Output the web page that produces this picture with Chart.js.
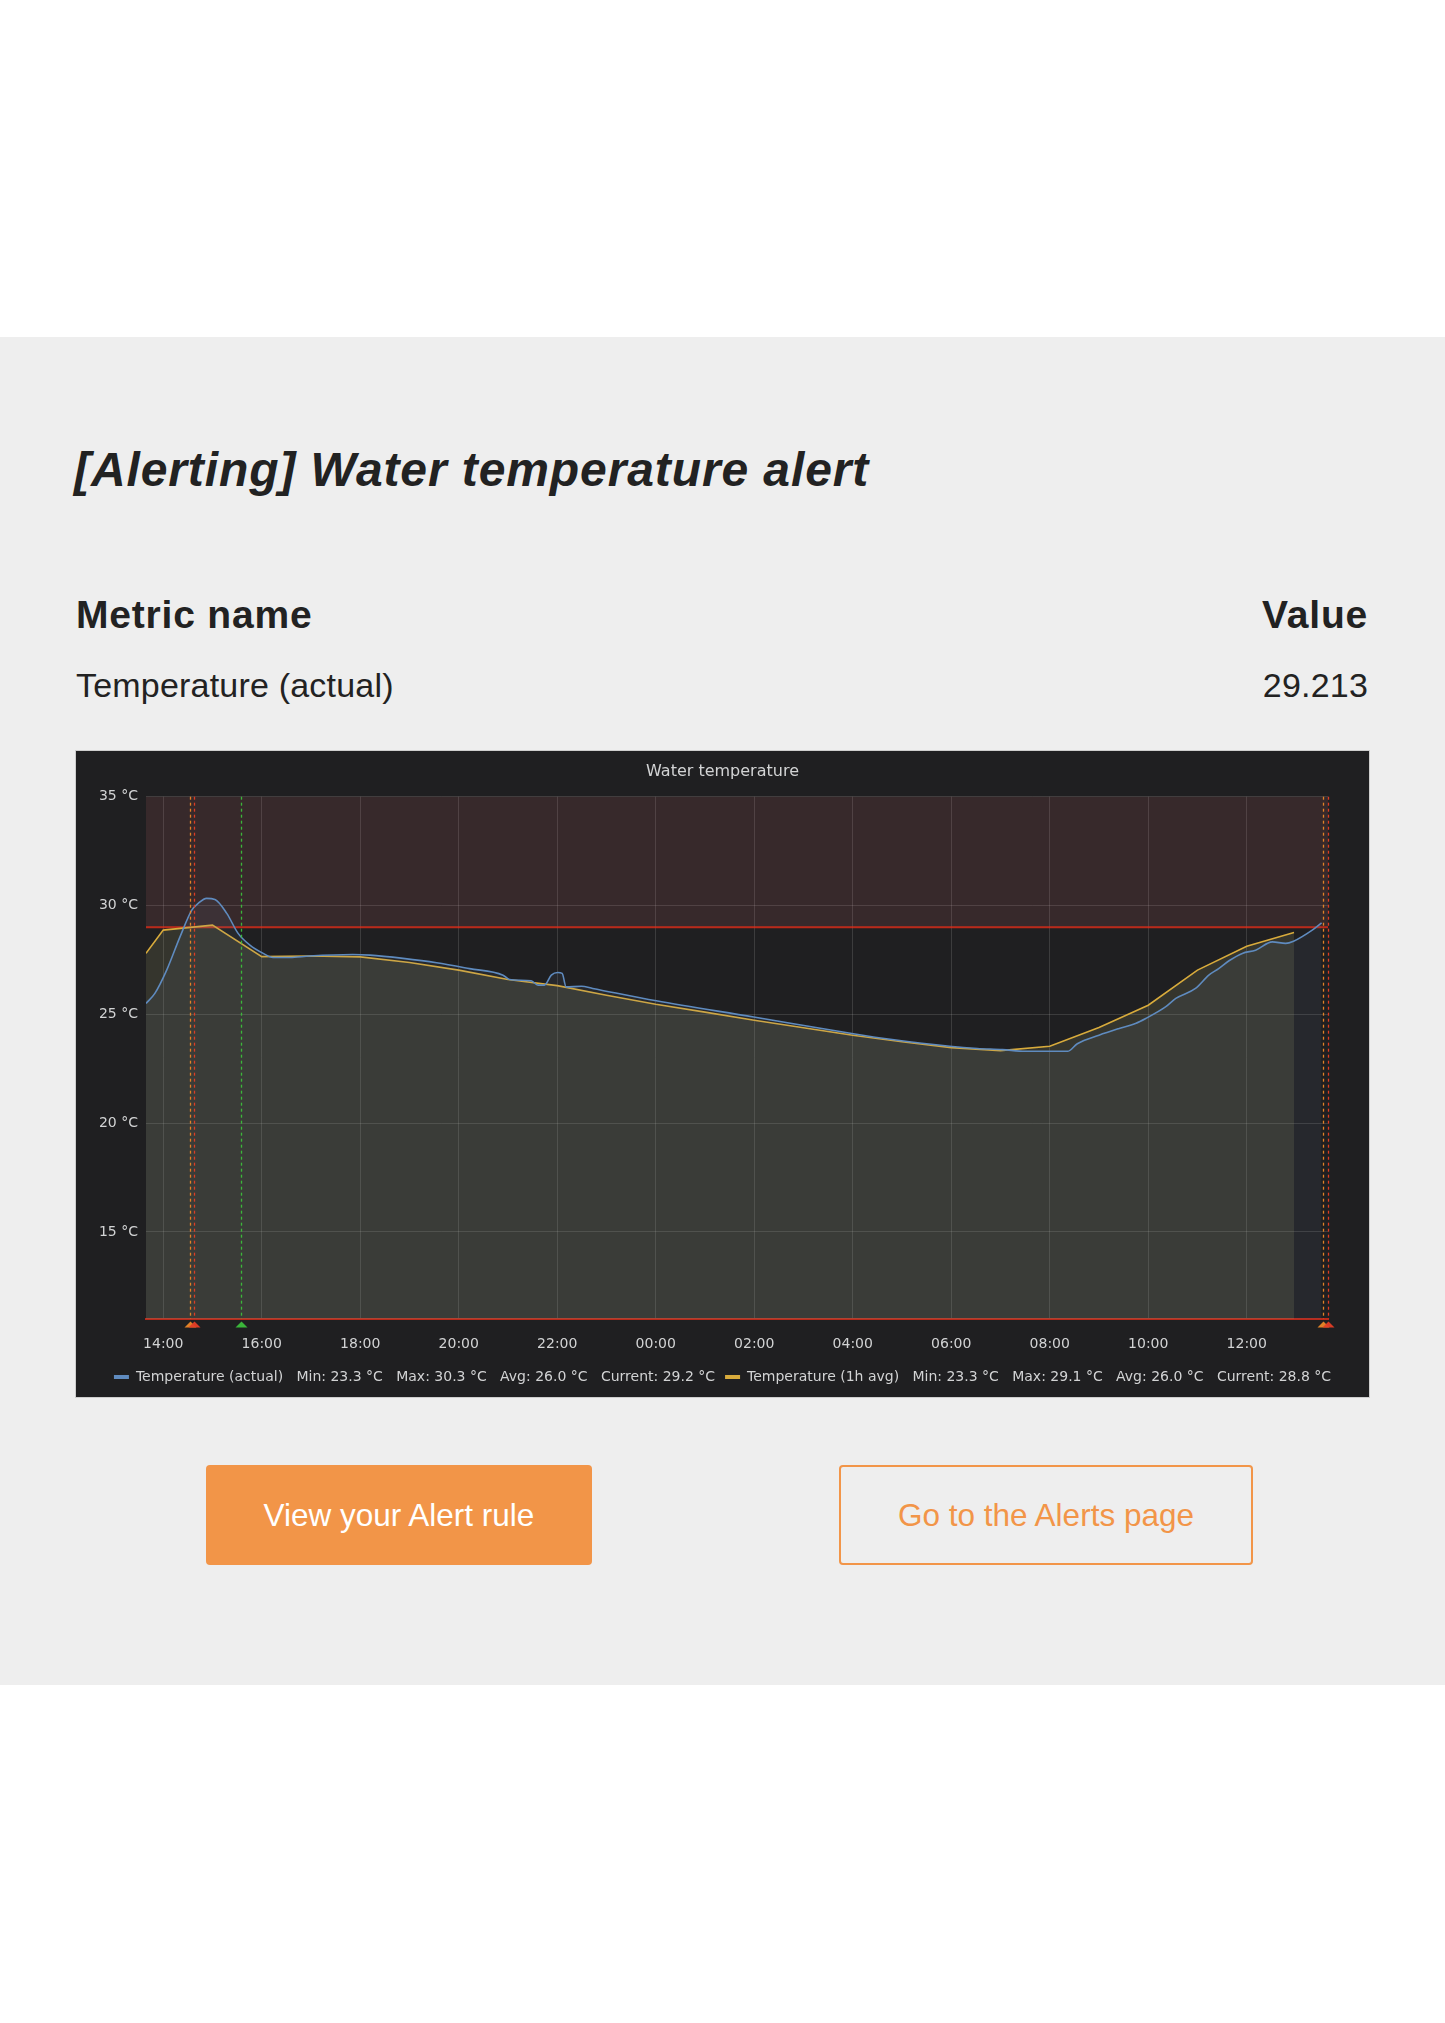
<!DOCTYPE html>
<html>
<head>
<meta charset="utf-8">
<title>[Alerting] Water temperature alert</title>
<script src="https://cdn.jsdelivr.net/npm/chart.js@4.4.1/dist/chart.umd.min.js"></script>
<style>
    html, body { margin: 0; padding: 0; background: #fff; }
    body {
        width: 1445px; height: 2023px; position: relative; overflow: hidden;
        font-family: 'Liberation Sans', Arial, Helvetica, sans-serif; color: #222;
    }
    .band { position: absolute; left: 0; top: 337px; width: 1445px; height: 1348px; background: #eeeeee; }
    .title {
        position: absolute; left: 74px; top: 446px; margin: 0;
        font-size: 48px; line-height: 48px; font-weight: bold; font-style: italic;
        letter-spacing: 0.9px; white-space: nowrap;
    }
    .th { position: absolute; top: 595px; font-size: 39px; line-height: 39px; font-weight: bold; letter-spacing: 0.8px; }
    .td { position: absolute; top: 668px; font-size: 34px; line-height: 34px; letter-spacing: 0.2px; }
    .left { left: 76px; }
    .right { right: 77px; text-align: right; }
    .panel {
        position: absolute; left: 75px; top: 750px; width: 1293px; height: 646px;
        border: 1px solid #cdcdcd; background: #1f1f21;
    }
    canvas { display: block; }
    .btn {
        position: absolute; top: 1465px; height: 100px; box-sizing: border-box;
        display: flex; align-items: center; justify-content: center;
        font-size: 31.5px; border-radius: 4px;
    }
    .btn-fill { left: 206px; width: 386px; background: #f29548; color: #fff; }
    .btn-line { left: 839px; width: 414px; border: 2px solid #f29548; color: #f29548; }
</style>
</head>
<body>
<div class="band"></div>
<h1 class="title">[Alerting] Water temperature alert</h1>
<div class="th left">Metric name</div>
<div class="th right">Value</div>
<div class="td left">Temperature (actual)</div>
<div class="td right">29.213</div>

<div class="panel">
    <canvas id="tempChart" width="1293" height="646"></canvas>
</div>

<div class="btn btn-fill">View your Alert rule</div>
<div class="btn btn-line">Go to the Alerts page</div>

<script>
// time axis is in hours counted from midnight of the first day (36 = 12:00 next day)
const xTickHours = [14, 16, 18, 20, 22, 24, 26, 28, 30, 32, 34, 36];
const yTicks = [15, 20, 25, 30, 35];

const actualHours = [13.65, 13.83, 14.07, 14.34, 14.58, 14.71, 14.88, 15.05, 15.29, 15.52, 15.76, 16.03,
    16.23, 16.57, 16.97, 17.85, 18.2, 18.87, 19.55, 20.22, 20.9, 21.03, 21.47, 21.61, 21.74, 21.88,
    22.01, 22.1, 22.18, 22.49, 22.72, 24.01, 25.99, 27.98, 28.8, 29.97, 30.53, 31.04, 31.5, 32.19,
    32.36, 32.56, 33.0, 33.41, 33.74, 33.95, 34.35, 34.56, 34.96, 35.23, 35.43, 35.64, 35.91, 36.18,
    36.52, 36.79, 36.95, 37.33, 37.52];
const actualTemps = [25.5, 25.96, 27.03, 28.56, 29.79, 30.1, 30.33, 30.28, 29.64, 28.72, 28.18, 27.8,
    27.61, 27.61, 27.68, 27.75, 27.72, 27.57, 27.37, 27.1, 26.8, 26.6, 26.54, 26.34, 26.34, 26.8,
    26.92, 26.88, 26.26, 26.29, 26.19, 25.62, 24.88, 24.12, 23.84, 23.53, 23.43, 23.38, 23.3, 23.3,
    23.3, 23.65, 24.04, 24.35, 24.58, 24.81, 25.34, 25.73, 26.19, 26.8, 27.1, 27.46, 27.8, 27.95,
    28.33, 28.26, 28.36, 28.87, 29.2];

const avgHours = [13.65, 14, 15, 16, 17, 18, 19, 20, 21, 22, 23, 24, 25, 26, 27, 28, 29, 30, 31, 32,
    33, 34, 35, 36, 36.96];
const avgTemps = [27.8, 28.87, 29.1, 27.65, 27.68, 27.64, 27.38, 27.03, 26.6, 26.32, 25.88, 25.46,
    25.1, 24.73, 24.38, 24.04, 23.74, 23.47, 23.33, 23.53, 24.39, 25.42, 27.03, 28.13, 28.76];

// Min, Max, Avg, Current as shown in the legend
const actualStats = [23.3, 30.3, 26.0, 29.2];
const avgStats = [23.3, 29.1, 26.0, 28.8];

const alertThreshold = 29;
const annotationHours = [14.54, 14.62, 15.57, 37.54, 37.64];
const annotationStates = ['pending', 'alerting', 'ok', 'pending', 'alerting'];

const stateColors = {
    pending: 'rgba(235, 135, 40, 0.95)',
    alerting: 'rgba(228, 62, 38, 0.95)',
    ok: 'rgba(60, 190, 60, 0.95)'
};
const actualColor = '#5f8bbf';
const avgColor = '#d8ab3c';
const textColor = '#d2d3d4';
const gridColor = 'rgba(255, 255, 255, 0.13)';
const alertRed = 'rgba(237, 46, 24, 0.75)';

function hourLabel(v) {
    const h = ((v % 24) + 24) % 24;
    return String(h).padStart(2, '0') + ':00';
}

function legendText(name, s) {
    const gap = '   ';
    return name + gap + 'Min: ' + s[0].toFixed(1) + ' °C' + gap + 'Max: ' + s[1].toFixed(1) + ' °C' + gap +
        'Avg: ' + s[2].toFixed(1) + ' °C' + gap + 'Current: ' + s[3].toFixed(1) + ' °C';
}

// alert zone, threshold line and state-change markers
const alertPlugin = {
    id: 'alertMarks',
    beforeDatasetsDraw(chart) {
        const { ctx, chartArea: a, scales: { y } } = chart;
        const ty = y.getPixelForValue(alertThreshold);
        ctx.save();
        ctx.fillStyle = 'rgba(234, 112, 112, 0.12)';
        ctx.fillRect(a.left, a.top, a.right - a.left, ty - a.top);
        ctx.strokeStyle = alertRed;
        ctx.lineWidth = 2;
        ctx.beginPath();
        ctx.moveTo(a.left, ty);
        ctx.lineTo(a.right, ty);
        ctx.stroke();
        ctx.restore();
    },
    afterDatasetsDraw(chart) {
        const { ctx, chartArea: a, scales: { x } } = chart;
        ctx.save();
        annotationHours.forEach((h, i) => {
            const px = Math.round(x.getPixelForValue(h)) + 0.5;
            const color = stateColors[annotationStates[i]];
            ctx.strokeStyle = color;
            ctx.lineWidth = 1.3;
            ctx.setLineDash([3, 3]);
            ctx.beginPath();
            ctx.moveTo(px, a.top);
            ctx.lineTo(px, a.bottom);
            ctx.stroke();
            ctx.setLineDash([]);
            ctx.fillStyle = color;
            ctx.beginPath();
            ctx.moveTo(px, a.bottom + 2.5);
            ctx.lineTo(px + 6, a.bottom + 8.5);
            ctx.lineTo(px - 6, a.bottom + 8.5);
            ctx.closePath();
            ctx.fill();
        });
        ctx.restore();
    }
};

Chart.defaults.font.family = "'DejaVu Sans', sans-serif";
Chart.defaults.color = textColor;

new Chart(document.getElementById('tempChart'), {
    type: 'line',
    data: {
        datasets: [
            {
                label: 'Temperature (actual)',
                data: actualHours.map((h, i) => ({ x: h, y: actualTemps[i] })),
                borderColor: actualColor,
                backgroundColor: 'rgba(110, 130, 160, 0.10)',
                fill: 'start',
                borderWidth: 1.6,
                pointRadius: 0,
                cubicInterpolationMode: 'monotone'
            },
            {
                label: 'Temperature (1h avg)',
                data: avgHours.map((h, i) => ({ x: h, y: avgTemps[i] })),
                borderColor: avgColor,
                backgroundColor: 'rgba(178, 180, 112, 0.15)',
                fill: 'start',
                borderWidth: 1.6,
                pointRadius: 0,
                tension: 0
            }
        ]
    },
    options: {
        responsive: false,
        animation: false,
        devicePixelRatio: 1,
        layout: { padding: { left: 0, right: 0, top: 0, bottom: 3 } },
        scales: {
            x: {
                type: 'linear',
                min: 13.65,
                max: 37.65,
                afterBuildTicks: s => { s.ticks = xTickHours.map(v => ({ value: v })); },
                afterFit: s => { s.height = 41; },
                ticks: {
                    padding: 17,
                    autoSkip: false,
                    maxRotation: 0,
                    font: { size: 14 },
                    color: textColor,
                    callback: v => hourLabel(v)
                },
                grid: { color: gridColor, drawTicks: false },
                border: { display: true, color: alertRed, width: 2 }
            },
            y: {
                min: 11,
                max: 35,
                afterBuildTicks: s => { s.ticks = yTicks.map(v => ({ value: v })); },
                afterFit: s => { s.width = 70; },
                ticks: {
                    padding: 8,
                    font: { size: 14 },
                    color: textColor,
                    callback: v => v + ' °C'
                },
                grid: { color: gridColor, drawTicks: false },
                border: { display: false }
            },
            yRight: {
                position: 'right',
                min: 11,
                max: 35,
                afterFit: s => { s.width = 41; },
                ticks: { display: false },
                grid: { display: false },
                border: { display: false }
            }
        },
        plugins: {
            title: {
                display: true,
                text: 'Water temperature',
                color: textColor,
                font: { size: 16, weight: 'normal' },
                padding: { top: 11, bottom: 15.5 }
            },
            legend: {
                position: 'bottom',
                labels: {
                    color: textColor,
                    font: { size: 14 },
                    boxWidth: 15,
                    boxHeight: 4,
                    padding: 10,
                    useBorderRadius: true,
                    borderRadius: 2,
                    generateLabels: chart => chart.data.datasets.map((ds, i) => ({
                        text: legendText(ds.label, i === 0 ? actualStats : avgStats),
                        fillStyle: ds.borderColor,
                        strokeStyle: ds.borderColor,
                        lineWidth: 0,
                        fontColor: textColor,
                        hidden: false,
                        datasetIndex: i
                    }))
                }
            },
            tooltip: { enabled: false }
        }
    },
    plugins: [alertPlugin]
});
</script>
</body>
</html>
